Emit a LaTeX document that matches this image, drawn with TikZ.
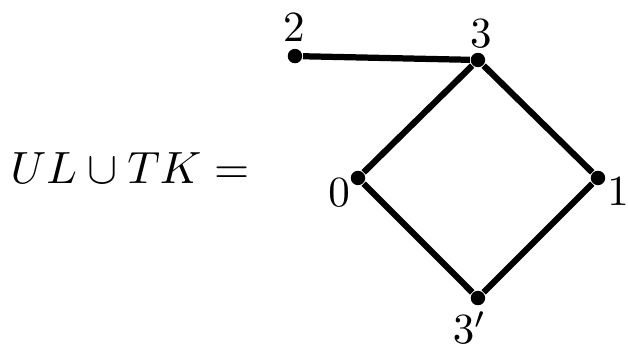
\documentclass[tikz,border=0pt]{standalone}
\usepackage{tikz}
\usetikzlibrary{positioning}

\begin{document}
\begin{tikzpicture}[font=\fontsize{10.4}{12.5}\selectfont,
  pt/.style={circle,fill=black,inner sep=0pt,minimum size=0.118cm},
  lbl/.style={anchor=base,inner sep=0pt},
  edge/.style={line width=1.45pt}]
\useasboundingbox (0,0) rectangle (5.131,-2.851);
\node[anchor=base west,inner sep=0pt,transform shape,scale=1.05] (eq) at (0.08,-1.503) {$UL\cup TK=$};
% vertices
\node[pt] (v2) at (2.410,-0.458) {};
\node[pt] (v3) at (3.905,-0.490) {};
\node[pt] (v0) at (2.925,-1.454) {};
\node[pt] (v1) at (4.886,-1.454) {};
\node[pt] (v3p) at (3.905,-2.435) {};
% labels
\node[lbl] (l2) at (2.402,-0.343) {$2$};
\node[lbl] (l3) at (3.930,-0.392) {$3$};
\node[lbl] (l0) at (2.770,-1.683) {$0$};
\node[lbl] (l1) at (5.050,-1.675) {$1$};
\node[lbl,anchor=base west] (l3p) at (3.693,-2.810) {$3'$};
% edges
\draw[edge] (v2) -- (v3);
\draw[edge] (v3) -- (v0);
\draw[edge] (v3) -- (v1);
\draw[edge] (v0) -- (v3p);
\draw[edge] (v1) -- (v3p);
\end{tikzpicture}
\end{document}
